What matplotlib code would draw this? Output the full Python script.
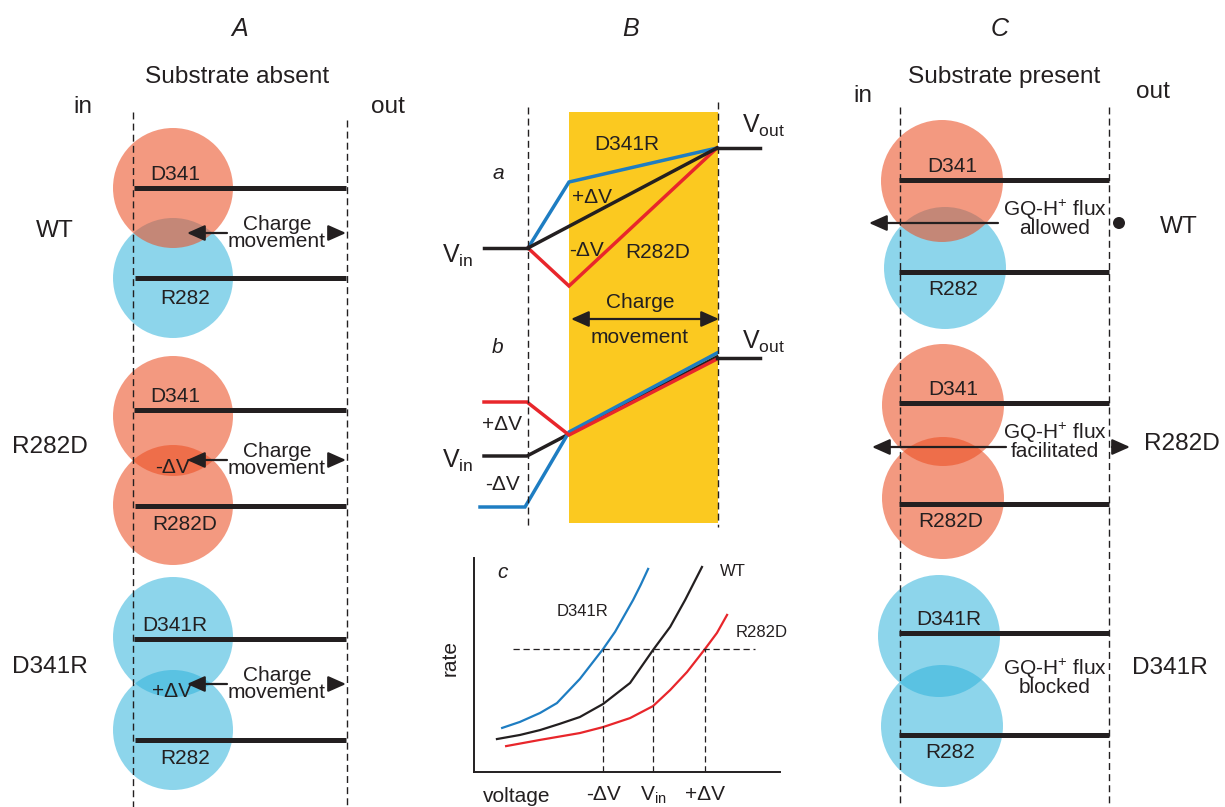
import numpy as np
import matplotlib
matplotlib.use("Agg")
import matplotlib.pyplot as plt
from matplotlib.patches import Circle, Rectangle

plt.rcParams['font.family'] = ['Liberation Sans', 'DejaVu Sans']
plt.rcParams['mathtext.fontset'] = 'custom'
plt.rcParams['mathtext.rm'] = 'Liberation Sans'
plt.rcParams['mathtext.it'] = 'Liberation Sans:italic'

INK = '#231F20'
RED_FILL = (236/255, 79/255, 36/255)
BLUE_FILL = (48/255, 179/255, 220/255)
RED = '#E8262B'
BLUE = '#1E7DC2'
YELLOW = '#FBC920'

# mutants and the two residues of each row
mutants = ['WT', 'R282D', 'D341R']
upper_res = ['D341', 'D341', 'D341R']
lower_res = ['R282', 'R282D', 'R282']
upper_sign = ['-', '-', '+']
lower_sign = ['+', '-', '+']
shift_text = ['', '-\u0394V', '+\u0394V']
flux_text = ['allowed', 'facilitated', 'blocked']

# panel a: potential profile through the membrane (in, inner edge, field edge, out)
prof_a = {'D341R': [248, 248, 182, 148, 148],
          'WT':    [248, 248, None, 148, 148],
          'R282D': [248, 248, 286, 148, 148]}
# panel b: the same, with shifted inside potentials
prof_b = {'WT':    [456, 456, 434, 357, 357],
          'D341R': [507, 507, 432, 353, 353],
          'R282D': [402, 402, 435, 359, 359]}

# panel c: rate vs voltage
volt_d341r = [0.92, 1.50, 2.16, 2.71, 3.46, 4.22, 4.61, 5.20, 5.45, 5.69]
rate_d341r = [2.06, 2.34, 2.76, 3.22, 4.35, 5.75, 6.55, 8.04, 8.75, 9.49]
volt_wt = [0.75, 1.50, 2.16, 2.80, 3.46, 4.22, 5.10, 5.85, 6.41, 6.90, 7.45]
rate_wt = [1.54, 1.73, 1.96, 2.25, 2.57, 3.18, 4.16, 5.70, 6.78, 8.04, 9.58]
volt_r282d = [1.05, 2.16, 3.46, 4.22, 5.10, 5.85, 6.41, 6.96, 7.55, 7.94, 8.27]
rate_r282d = [1.21, 1.50, 1.82, 2.10, 2.52, 3.08, 3.83, 4.67, 5.75, 6.50, 7.34]
rate_ref = 5.75
volt_marks = [4.22, 5.85, 7.55]
volt_labels = ['-\u0394V', 'V$_{\\rm in}$', '+\u0394V']

fig = plt.figure(figsize=(12.25, 8.07), dpi=100)
ax = fig.add_axes([0, 0, 1, 1])
ax.set_xlim(0, 1225)
ax.set_ylim(807, 0)
ax.axis('off')


def txt(x, y, s, size=15, ha='center', **kw):
    ax.text(x, y, s, fontsize=size, ha=ha, va='baseline', color=INK, **kw)


def arrow(x0, y0, x1, y1, style='-|>'):
    ax.annotate('', xy=(x1, y1), xytext=(x0, y0),
                arrowprops=dict(arrowstyle=style + ',head_length=0.54,head_width=0.24',
                                lw=1.6, color=INK, shrinkA=0, shrinkB=0,
                                mutation_scale=20))


def dashed(x, y0, y1):
    ax.plot([x, x], [y0, y1], color=INK, lw=1.0, ls=(0, (5, 3)), zorder=4)


def fill_for(sign):
    return (RED_FILL, 0.58) if sign == '-' else (BLUE_FILL, 0.55)


def draw_pair(cx_up, cy_up, cx_lo, cy_lo, r, sign_up, sign_lo):
    fc, a = fill_for(sign_lo)
    ax.add_patch(Circle((cx_lo, cy_lo), r, fc=fc, ec='none', alpha=a, zorder=1))
    fc, a = fill_for(sign_up)
    ax.add_patch(Circle((cx_up, cy_up), r, fc=fc, ec='none', alpha=a, zorder=1))


# ---------------- A: substrate absent ----------------
txt(240, 36, 'A', size=18, style='italic')
txt(237, 83, 'Substrate absent', size=17.6)
txt(83, 113, 'in', size=17.6)
txt(388, 113, 'out', size=17.6)

a_up_y = [188, 416, 637]
a_lo_y = [278, 505, 730]
a_line_up = [188, 410, 639]
a_line_lo = [278, 506, 740]
a_arrow_y = [233, 460, 684]
a_side_y = [237, 453, 673]
for i, m in enumerate(mutants):
    draw_pair(173, a_up_y[i], 173, a_lo_y[i], 60, upper_sign[i], lower_sign[i])
    ax.plot([134, 346], [a_line_up[i]] * 2, color=INK, lw=3.6, solid_capstyle='butt', zorder=3)
    ax.plot([135, 346], [a_line_lo[i]] * 2, color=INK, lw=3.6, solid_capstyle='butt', zorder=3)
    txt(175, a_line_up[i] - 8, upper_res[i])
    txt(185, a_line_lo[i] + 24 if i else a_line_lo[i] + 26, lower_res[i])
    txt(36 if i == 0 else 12, a_side_y[i], m, size=17.6, ha='left')
    if shift_text[i]:
        txt(172, a_arrow_y[i] + 13, shift_text[i])
    y = a_arrow_y[i]
    arrow(227, y, 187, y)
    arrow(329, y, 346, y)
    txt(277, y - 3, 'Charge')
    txt(277, y + 14, 'movement')
dashed(133, 112, 807)
dashed(347, 120, 807)

# ---------------- B: potential profiles ----------------
txt(631, 36, 'B', size=18, style='italic')
ax.add_patch(Rectangle((569, 112), 149, 411, fc=YELLOW, ec='none', zorder=0))
dashed(528, 107, 528)
dashed(718, 102, 527)

nodes = [484, 528, 569, 717, 760]
for name, col in [('D341R', BLUE), ('R282D', RED), ('WT', INK)]:
    ys = prof_a[name]
    pts = [(x, y) for x, y in zip(nodes, ys) if y is not None]
    if name != 'WT':
        pts = pts[1:4]
    else:
        pts = pts[1:3]
    ax.plot([p[0] for p in pts], [p[1] for p in pts], color=col, lw=2.5,
            solid_joinstyle='miter', zorder=2)
ax.plot(nodes[:2], prof_a['WT'][:2], color=INK, lw=2.5, zorder=2)
ax.plot(nodes[3:], prof_a['WT'][3:], color=INK, lw=2.5, zorder=2)

b_nodes = {'WT': [484, 527, 569, 717], 'D341R': [480, 525, 569, 717], 'R282D': [484, 527, 569, 717]}
for name, col in [('WT', INK), ('D341R', BLUE), ('R282D', RED)]:
    ax.plot(b_nodes[name], prof_b[name][:4], color=col, lw=2.5, solid_joinstyle='miter', zorder=2)
ax.plot([717, 760], [358, 358], color=INK, lw=2.5, zorder=2)

txt(498, 179, 'a', style='italic')
txt(442, 263, 'V$_{\\rm in}$', size=18, ha='left')
txt(742, 133, 'V$_{\\rm out}$', size=18, ha='left')
txt(627, 150, 'D341R')
txt(592, 203, '+\u0394V')
txt(587, 256, '-\u0394V')
txt(658, 258, 'R282D')
txt(640, 308, 'Charge')
arrow(571, 319, 719, 319, style='<|-|>')
txt(640, 343, 'movement')
txt(498, 353, 'b', style='italic')
txt(742, 349, 'V$_{\\rm out}$', size=18, ha='left')
txt(502, 430, '+\u0394V')
txt(442, 468, 'V$_{\\rm in}$', size=18, ha='left')
txt(503, 490, '-\u0394V')

# ---------------- c: rate vs voltage ----------------
axc = fig.add_axes([474 / 1225, (807 - 772) / 807, (780 - 474) / 1225, (772 - 558) / 807])
axc.set_xlim(0, 10)
axc.set_ylim(0, 10)
axc.patch.set_alpha(0)
for s in ['top', 'right']:
    axc.spines[s].set_visible(False)
for s in ['left', 'bottom']:
    axc.spines[s].set_linewidth(1.4)
    axc.spines[s].set_color(INK)
axc.plot(volt_d341r, rate_d341r, color=BLUE, lw=1.6)
axc.plot(volt_wt, rate_wt, color=INK, lw=1.6)
axc.plot(volt_r282d, rate_r282d, color=RED, lw=1.6)
axc.plot([1.27, 9.18], [rate_ref, rate_ref], color=INK, lw=0.9, ls=(0, (5, 3)))
for v in volt_marks:
    axc.plot([v, v], [0, rate_ref], color=INK, lw=0.9, ls=(0, (5, 3)))
axc.set_xticks(volt_marks)
axc.set_xticklabels(volt_labels, fontsize=15, color=INK)
axc.tick_params(axis='x', length=0, pad=9)
axc.set_yticks([])
axc.text(0.75, 9.3, 'c', fontsize=15, style='italic', color=INK, va='center')
axc.text(3.56, 7.48, 'D341R', fontsize=12, color=INK, ha='center', va='center')
axc.text(8.04, 9.35, 'WT', fontsize=12, color=INK, ha='left', va='center')
axc.text(8.56, 6.54, 'R282D', fontsize=12, color=INK, ha='left', va='center', clip_on=False)
txt(517, 802, 'voltage')
ax.text(450, 658, 'rate', fontsize=15, color=INK, rotation=90, ha='center', va='center')

# ---------------- C: substrate present ----------------
txt(1000, 36, 'C', size=18, style='italic')
txt(1004, 83, 'Substrate present', size=17.6)
txt(863, 102, 'in', size=17.6)
txt(1153, 98, 'out', size=17.6)

c_up = [(942, 181), (943, 405), (939, 636)]
c_lo = [(945, 268), (943, 498), (942, 726)]
c_line_up = [180, 403, 633]
c_line_lo = [272, 504, 735]
c_flux_y = [216, 439, 675]
c_side = [(1179, 233), (1182, 450), (1170, 674)]
for i, m in enumerate(mutants):
    draw_pair(c_up[i][0], c_up[i][1], c_lo[i][0], c_lo[i][1], 61, upper_sign[i], lower_sign[i])
    ax.plot([899, 1109], [c_line_up[i]] * 2, color=INK, lw=3.6, solid_capstyle='butt', zorder=3)
    ax.plot([899, 1109], [c_line_lo[i]] * 2, color=INK, lw=3.6, solid_capstyle='butt', zorder=3)
    txt(c_up[i][0] + 10, c_line_up[i] - 8, upper_res[i])
    txt(c_lo[i][0] + 8, c_line_lo[i] + 23, lower_res[i])
    txt(1055, c_flux_y[i], 'GQ-H$^{+}$ flux')
    txt(1055, c_flux_y[i] + 18, flux_text[i])
    txt(c_side[i][0], c_side[i][1], m, size=17.6)
dashed(900, 107, 807)
dashed(1109, 107, 807)

# flux arrows
arrow(998, 223, 869, 223)
ax.add_patch(Circle((1119, 223), 6, fc=INK, ec='none', zorder=5))
arrow(1006, 447, 872, 447)
arrow(1112, 447, 1130, 447)

fig.savefig('out.png', dpi=100)
